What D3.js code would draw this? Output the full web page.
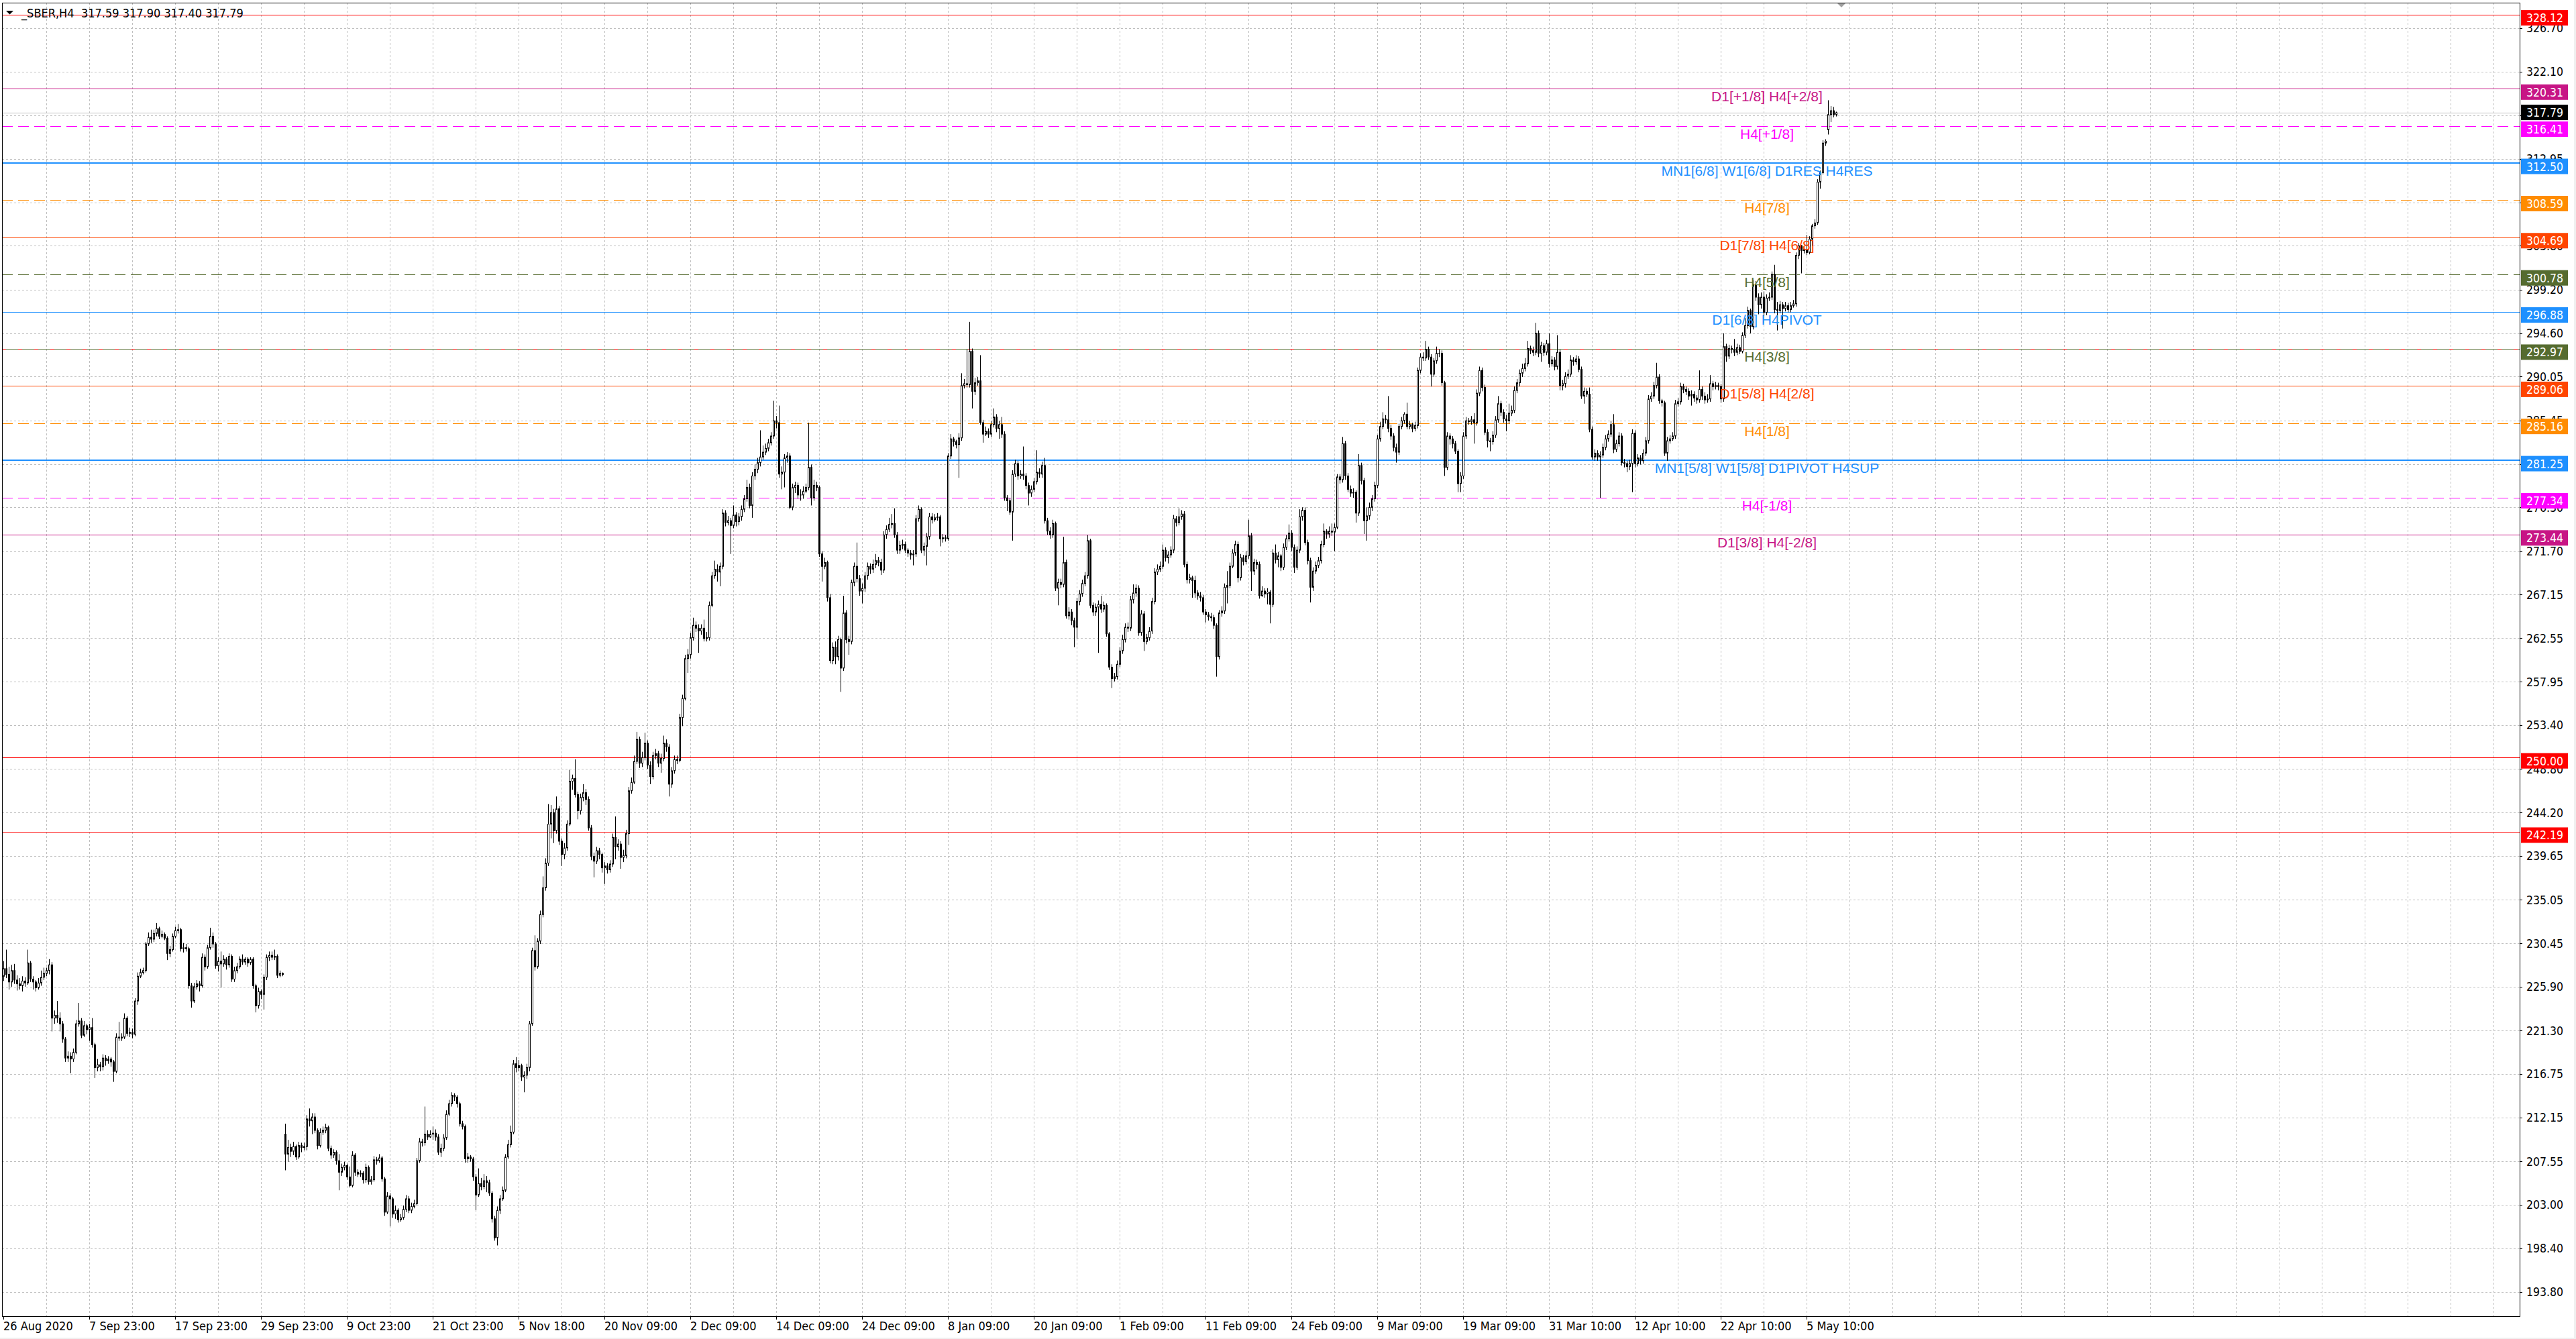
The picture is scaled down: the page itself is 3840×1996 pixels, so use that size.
<!DOCTYPE html>
<html><head><meta charset="utf-8">
<script src="https://cdn.jsdelivr.net/npm/d3@7/dist/d3.min.js"></script>
<style>
html,body{margin:0;padding:0;background:#fff;overflow:hidden}
svg{display:block}
</style></head><body>
<svg id="chart" width="3840" height="1996"></svg>
<script>
// ---------------- DATA ----------------
const symbolTitle = "_SBER,H4";
const lastOHLC = [317.59, 317.90, 317.40, 317.79];
const bidPrice = 317.79;

const timeLabels = ["26 Aug 2020","7 Sep 23:00","17 Sep 23:00","29 Sep 23:00","9 Oct 23:00","21 Oct 23:00",
  "5 Nov 18:00","20 Nov 09:00","2 Dec 09:00","14 Dec 09:00","24 Dec 09:00","8 Jan 09:00","20 Jan 09:00",
  "1 Feb 09:00","11 Feb 09:00","24 Feb 09:00","9 Mar 09:00","19 Mar 09:00","31 Mar 10:00","12 Apr 10:00",
  "22 Apr 10:00","5 May 10:00"];
const barsPerTimeLabel = 32;
const barsPerGridLine = 16;

const yTickValues = [326.70,322.10,317.50,312.95,308.35,303.80,299.20,294.60,290.05,285.45,280.85,276.30,
  271.70,267.15,262.55,257.95,253.40,248.80,244.20,239.65,235.05,230.45,225.90,221.30,216.75,212.15,
  207.55,203.00,198.40,193.80];

const levelPrices = [328.12,320.31,316.41,312.50,308.59,304.69,300.78,296.88,292.97,289.06,285.16,281.25,277.34,273.44,250.00,242.19];
const levelNames  = ["","D1[+1/8] H4[+2/8]","H4[+1/8]","MN1[6/8] W1[6/8] D1RES H4RES","H4[7/8]","D1[7/8] H4[6/8]",
  "H4[5/8]","D1[6/8] H4PIVOT","H4[3/8]","D1[5/8] H4[2/8]","H4[1/8]","MN1[5/8] W1[5/8] D1PIVOT H4SUP",
  "H4[-1/8]","D1[3/8] H4[-2/8]","",""];
const levelColors = ["#FF0000","#C71585","#FF00FF","#1E90FF","#FF8C00","#FF4500","#556B2F","#1E90FF",
  "#556B2F","#FF4500","#FF8C00","#1E90FF","#FF00FF","#C71585","#FF0000","#FF0000"];
const levelDashed = [false,false,true,false,true,false,true,false,false,false,true,false,true,false,false,false];
const levelWide   = [false,false,false,true,false,false,false,false,false,false,false,true,false,false,false,false];
const overlayDashPrice = 292.97; // red dashed line under the olive H4[3/8]

// H4 candles: [open, close, high, low]
const candles = [
[227.0,227.8,228.6,226.5],[227.8,227.2,229.8,226.8],[227.2,226.4,228.0,225.6],[226.4,227.6,228.2,225.9],[227.6,226.6,228.3,226.2],[226.6,226.2,227.1,225.5],[226.2,226.0,226.8,225.6],[226.0,226.5,227.0,225.4],
[226.5,226.3,226.9,225.9],[226.3,228.4,229.8,226.1],[228.4,226.7,228.6,226.4],[226.7,226.4,227.0,225.6],[226.4,225.8,226.6,225.4],[225.8,226.3,226.8,225.6],[226.3,226.9,227.6,226.0],[226.9,227.3,227.9,226.6],
[227.3,227.6,227.9,227.0],[227.6,228.2,228.8,227.2],[228.2,222.6,228.5,221.2],[222.6,222.9,223.4,222.0],[222.9,222.6,224.4,222.1],[222.6,222.0,223.2,221.2],[222.0,220.4,222.3,220.0],[220.4,218.4,220.6,218.0],
[218.4,218.6,219.1,218.0],[218.6,218.3,219.0,216.8],[218.3,219.0,219.4,218.0],[219.0,222.0,222.4,218.8],[222.0,222.3,224.2,221.7],[222.3,220.8,222.6,220.5],[220.8,221.8,222.3,220.6],[221.8,221.4,222.0,220.9],
[221.4,221.6,222.0,220.2],[221.6,219.8,222.6,219.5],[219.8,217.4,220.0,216.3],[217.4,217.7,218.3,217.0],[217.7,217.5,218.0,217.0],[217.5,218.4,218.8,217.1],[218.4,218.1,218.7,217.6],[218.1,218.3,218.6,217.8],
[218.3,218.0,218.5,217.5],[218.0,217.0,218.2,215.9],[217.0,220.6,221.0,216.8],[220.6,220.5,222.2,220.2],[220.5,220.6,221.0,220.2],[220.6,222.6,223.1,220.4],[222.6,221.0,222.8,220.7],[221.0,221.1,221.6,220.6],
[221.1,220.9,221.5,220.5],[220.9,224.4,224.7,220.7],[224.4,227.0,227.4,224.0],[227.0,227.4,227.8,226.8],[227.4,227.6,227.9,227.2],[227.6,230.4,230.6,227.4],[230.4,231.1,231.6,230.2],[231.1,230.9,231.9,230.5],
[230.9,231.5,231.9,230.6],[231.5,232.0,232.6,231.2],[232.0,231.2,232.2,230.9],[231.2,231.4,231.8,231.0],[231.4,231.0,231.6,230.8],[231.0,229.4,231.2,228.7],[229.4,229.8,230.2,229.0],[229.8,231.2,231.5,229.6],
[231.2,231.8,232.2,231.0],[231.8,231.9,232.5,231.5],[231.9,229.9,232.1,229.6],[229.9,230.0,230.5,229.5],[230.0,229.9,230.4,229.6],[229.9,226.0,230.1,225.7],[226.0,224.4,226.3,223.7],[224.4,225.9,226.3,224.2],
[225.9,226.2,226.6,225.6],[226.2,226.0,226.5,225.4],[226.0,229.0,229.4,225.8],[229.0,228.0,229.3,227.6],[228.0,230.0,230.3,227.8],[230.0,231.2,232.1,229.8],[231.2,230.4,231.6,230.0],[230.4,228.1,230.6,227.8],
[228.1,228.6,229.0,227.5],[228.6,228.3,229.6,225.8],[228.3,228.8,229.2,228.0],[228.8,228.2,229.0,227.7],[228.2,229.1,229.4,227.9],[229.1,226.7,229.3,226.4],[226.7,227.6,228.0,226.4],[227.6,228.0,228.4,227.3],
[228.0,228.8,229.1,227.8],[228.8,228.5,229.3,228.2],[228.5,228.8,229.0,228.2],[228.8,228.4,229.0,228.0],[228.4,228.8,229.0,228.2],[228.8,226.0,229.0,225.7],[226.0,223.9,226.2,223.2],[223.9,225.4,225.8,223.6],
[225.4,225.1,225.6,224.6],[225.1,226.9,227.2,223.5],[226.9,229.0,229.3,226.6],[229.0,229.2,229.6,228.6],[229.2,229.0,229.6,228.7],[229.0,229.1,229.8,228.7],[229.1,227.1,229.3,226.8],[227.1,227.3,227.6,226.9],
[227.3,227.2,227.4,227.0],
[210.4,208.3,211.5,206.6],[208.3,209.0,209.8,207.5],[209.0,208.6,209.4,208.0],[208.6,209.1,209.6,208.2],[209.1,208.0,209.3,207.7],[208.0,209.2,209.6,207.8],[209.2,209.0,209.5,208.5],[209.0,209.1,209.5,208.7],
[209.1,212.0,212.4,208.7],[212.0,211.8,213.1,211.2],[211.8,212.2,212.6,210.4],[212.2,210.8,212.6,210.5],[210.8,209.2,211.0,208.8],[209.2,210.6,211.0,209.0],[210.6,210.8,211.2,210.3],[210.8,211.1,211.5,210.5],
[211.1,208.9,211.3,208.6],[208.9,208.2,209.2,207.8],[208.2,208.5,208.8,207.9],[208.5,207.6,208.7,207.2],[207.6,206.4,208.3,204.5],[206.4,206.9,207.3,206.0],[206.9,207.1,207.5,206.6],[207.1,205.9,207.3,205.6],
[205.9,205.0,207.0,204.8],[205.0,208.2,208.6,204.8],[208.2,206.4,208.4,206.0],[206.4,206.2,206.7,205.9],[206.2,206.3,206.6,205.9],[206.3,205.6,206.5,205.2],[205.6,206.9,207.3,205.3],[206.9,205.4,207.1,205.1],
[205.4,205.6,206.0,205.1],[205.6,207.7,208.1,205.4],[207.7,207.6,208.0,207.2],[207.6,207.9,208.3,207.4],[207.9,205.7,208.1,205.4],[205.7,202.2,205.9,201.8],[202.2,203.9,204.3,202.0],[203.9,203.6,204.2,200.7],
[203.6,202.0,203.8,201.6],[202.0,202.4,202.9,201.5],[202.4,201.4,202.6,201.1],[201.4,201.6,202.0,201.2],[201.6,202.5,202.9,201.4],[202.5,203.6,204.0,202.2],[203.6,202.4,203.9,202.1],[202.4,202.8,203.2,202.1],
[202.8,203.1,203.5,202.6],[203.1,207.6,207.9,202.9],[207.6,209.6,210.0,207.4],[209.6,209.5,209.9,209.1],[209.5,210.4,213.3,209.2],[210.4,210.1,210.8,209.8],[210.1,210.4,210.8,210.0],[210.4,210.5,211.2,209.8],
[210.5,210.1,210.9,209.7],[210.1,208.5,210.4,208.2],[208.5,208.9,209.4,208.0],[208.9,210.0,210.4,208.6],[210.0,212.5,212.9,209.8],[212.5,213.6,214.0,212.3],[213.6,214.5,214.8,213.3],[214.5,214.3,214.7,213.9],
[214.3,213.6,214.5,213.2],[213.6,211.5,213.8,211.2],[211.5,211.2,211.8,210.9],[211.2,207.8,211.4,207.4],[207.8,208.0,208.4,207.4],[208.0,207.8,208.2,207.5],[207.8,205.9,208.0,205.5],[205.9,204.0,206.2,202.4],
[204.0,205.2,206.8,203.8],[205.2,204.9,205.8,204.5],[204.9,205.5,206.2,204.6],[205.5,205.3,206.0,204.3],[205.3,204.2,205.6,203.9],[204.2,201.5,204.4,201.1],[201.5,199.5,201.8,199.2],[199.5,202.4,202.8,198.7],
[202.4,203.6,204.0,202.0],[203.6,204.5,204.9,203.4],[204.5,208.0,208.3,204.3],[208.0,209.3,209.8,207.8],[209.3,210.6,211.3,209.0],[210.6,217.8,218.2,210.4],[217.8,217.4,218.5,216.9],[217.4,217.6,218.2,217.0],
[217.6,216.4,217.8,216.0],[216.4,216.6,217.0,214.8],[216.6,217.4,217.8,216.2],[217.4,222.0,222.3,217.0],[222.0,229.7,230.0,221.8],[229.7,228.0,231.3,227.6],[228.0,230.7,231.0,227.8],[230.7,233.5,233.9,230.4],
[233.5,236.3,237.5,233.2],[236.3,238.9,239.4,236.0],[238.9,243.0,245.1,238.6],[243.0,244.2,245.0,241.5],[244.2,242.3,244.6,241.0],[242.3,244.6,245.9,242.0],[244.6,241.2,244.9,240.8],[241.2,239.8,241.5,238.6],
[239.8,240.5,241.0,239.3],[240.5,243.0,243.4,240.2],[243.0,247.5,248.7,242.8],[247.5,247.8,248.2,246.6],[247.8,246.1,249.8,245.8],[246.1,244.4,246.4,243.5],[244.4,245.8,246.2,244.0],[245.8,246.3,247.2,245.4],
[246.3,245.6,246.7,245.0],[245.6,242.6,245.9,242.3],[242.6,239.6,242.9,239.2],[239.6,239.1,240.0,237.4],[239.1,240.2,240.6,238.8],[240.2,239.8,240.5,239.3],[239.8,238.4,240.0,237.9],[238.4,238.6,239.0,236.7],
[238.6,238.2,238.9,237.8],[238.2,238.8,239.2,237.9],[238.8,241.6,242.0,238.5],[241.6,240.6,243.8,239.3],
[240.6,240.9,241.4,240.2],[240.9,239.5,241.2,238.3],[239.5,239.7,240.3,239.0],[239.7,242.0,242.4,239.4],[242.0,246.5,246.9,240.8],[246.5,247.4,247.9,246.2],[247.4,249.6,250.2,247.2],[249.6,251.9,252.7,249.3],
[251.9,249.4,252.2,248.9],[249.4,250.0,250.6,249.0],[250.0,251.5,252.6,249.7],[251.5,249.2,251.8,248.8],[249.2,248.0,249.6,247.2],[248.0,250.2,250.6,247.7],[250.2,250.4,250.9,249.8],[250.4,249.4,250.7,249.0],
[249.4,249.9,250.4,248.4],[249.9,251.5,252.3,249.6],[251.5,251.1,251.9,250.6],[251.1,247.2,251.4,245.9],[247.2,248.6,249.0,246.8],[248.6,249.8,250.2,248.3],[249.8,249.7,250.2,249.3],[249.7,254.2,254.6,249.5],
[254.2,256.2,256.6,253.3],[256.2,260.4,260.8,256.0],[260.4,260.8,261.4,258.9],[260.8,262.6,263.1,260.4],[262.6,263.9,264.7,262.3],[263.9,263.6,264.3,263.2],[263.6,263.3,264.0,261.0],[263.3,263.6,264.0,262.9],
[263.6,262.5,264.5,262.2],[262.5,262.6,263.2,262.2],[262.6,266.0,266.4,262.3],[266.0,269.1,269.5,265.8],[269.1,269.8,270.7,268.8],[269.8,269.5,270.3,268.5],[269.5,270.1,270.5,268.0],[270.1,275.7,276.1,269.8],
[275.7,274.7,276.0,274.3],[274.7,274.9,275.4,274.4],[274.9,274.4,275.2,271.4],[274.4,275.5,276.5,274.1],[275.5,274.8,275.8,274.3],[274.8,275.3,275.7,274.4],[275.3,276.1,276.5,274.9],[276.1,277.2,277.6,275.8],
[277.2,278.4,279.2,276.9],[278.4,276.5,278.8,276.2],[276.5,279.6,280.0,275.2],[279.6,280.3,280.8,279.2],[280.3,281.0,281.5,279.9],[281.0,281.6,284.4,280.6],[281.6,282.1,282.8,281.3],[282.1,282.5,283.0,281.8],
[282.5,283.1,283.5,282.2],[283.1,283.8,284.2,282.8],[283.8,285.4,287.5,283.5],[285.4,285.2,285.9,284.6],[285.2,279.8,287.0,279.4],[279.8,280.0,280.6,278.2],[280.0,281.5,281.9,278.4],[281.5,281.7,282.1,281.0],
[281.7,276.3,282.0,276.1],[276.3,278.4,278.8,276.0],[278.4,278.6,279.0,277.8],[278.6,277.6,278.9,277.2],[277.6,277.6,278.2,277.0],[277.6,278.0,278.5,277.2],[278.0,278.4,278.8,277.8],[278.4,280.5,285.2,278.1],
[280.5,277.3,280.8,276.5],[277.3,278.6,279.2,277.0],[278.6,278.4,279.0,278.0],[278.4,271.4,278.6,271.1],[271.4,270.1,271.7,268.5],[270.1,270.5,271.0,269.8],[270.5,266.8,270.7,266.4],[266.8,260.2,267.2,259.9],
[260.2,261.6,262.1,259.8],[261.6,260.6,262.2,259.8],[260.6,262.4,262.8,260.2],[262.4,259.4,262.6,256.9],[259.4,265.2,267.0,259.1],[265.2,262.4,265.5,262.0],[262.4,262.2,262.8,260.8],[262.2,268.4,268.7,261.9],
[268.4,270.1,270.5,268.0],[270.1,268.8,272.6,268.4],[268.8,267.5,269.2,267.0],[267.5,267.8,268.3,266.2],[267.8,269.1,269.5,267.4],[269.1,270.1,270.5,268.7],[270.1,269.8,270.4,269.3],[269.8,270.3,270.8,269.4],
[270.3,270.7,271.4,269.9],[270.7,270.5,271.1,270.1],[270.5,269.7,270.9,269.2],[269.7,273.4,273.8,269.4],[273.4,274.0,274.4,273.0],[274.0,274.5,275.2,273.7],[274.5,274.6,275.6,274.1],[274.6,273.4,276.2,273.1],
[273.4,271.8,273.7,271.4],[271.8,272.3,272.8,271.4],[272.3,272.4,272.9,271.9],[272.4,271.8,272.7,271.5],[271.8,271.5,272.0,271.1],[271.5,271.3,271.8,270.8],[271.3,271.4,271.8,270.2],[271.4,275.1,275.5,271.1],
[275.1,276.1,276.5,274.8],[276.1,271.8,276.3,271.5],[271.8,272.2,272.6,271.2],[272.2,273.2,273.6,270.2],[273.2,275.3,275.7,272.9],[275.3,275.0,275.7,274.6],[275.0,275.2,275.6,274.8],[275.2,275.3,275.7,274.9],
[275.3,273.0,275.5,272.2],[273.0,273.1,273.5,272.6],[273.1,273.0,273.4,272.7],[273.0,281.7,282.0,272.8],[281.7,283.5,284.0,281.4],[283.5,283.2,283.7,282.7],[283.2,282.9,283.4,282.5],[282.9,283.6,284.1,279.4],
[283.6,289.1,290.4,283.3],[289.1,289.3,289.8,288.8],[289.3,289.2,292.9,288.9],[289.2,292.7,295.8,288.9],[292.7,288.5,293.0,286.7],[288.5,289.4,289.9,288.1],[289.4,289.6,290.0,289.1],[289.6,285.2,292.3,285.0],
[285.2,284.0,285.5,283.1],[284.0,284.3,284.8,283.8],[284.3,284.0,284.6,283.6],[284.0,285.0,285.4,283.7],[285.0,285.8,286.7,284.7],[285.8,284.6,286.1,284.2],[284.6,285.0,285.4,283.5],[285.0,284.0,285.8,283.6],
[284.0,277.3,284.3,277.0],[277.3,277.0,277.6,275.9],[277.0,275.8,277.3,275.5],[275.8,279.8,280.2,272.8],[279.8,280.9,281.3,279.5],[280.9,279.6,281.2,279.2],[279.6,279.8,280.2,279.3],[279.8,279.6,282.7,279.2],
[279.6,278.6,279.9,278.2],[278.6,277.8,278.9,276.5],[277.8,278.2,278.6,277.4],[278.2,279.0,279.4,277.9],[279.0,280.0,282.3,278.7],[280.0,279.8,280.4,279.4],[279.8,280.7,281.1,279.4],[280.7,274.9,281.5,274.6],
[274.9,273.8,275.2,273.4],[273.8,273.4,274.2,273.0],[273.4,274.6,275.0,273.1],[274.6,267.8,274.8,267.5],[267.8,268.4,268.8,266.0],[268.4,268.2,268.8,267.8],[268.2,270.5,273.2,267.9],[270.5,264.9,270.8,264.6],
[264.9,265.3,265.8,264.5],[265.3,264.4,265.6,263.9],[264.4,263.7,264.7,261.6],[263.7,266.4,266.8,262.5],[266.4,267.2,267.6,266.0],[267.2,268.3,268.7,266.9],[268.3,269.1,269.5,268.0],[269.1,272.8,273.4,268.8],
[272.8,266.0,273.0,265.7],[266.0,265.3,266.3,264.9],[265.3,265.8,266.2,264.9],[265.8,266.1,266.5,261.0],[266.1,265.6,267.0,265.2],[265.6,266.0,266.4,265.3],[266.0,263.0,266.2,262.7],[263.0,259.5,263.2,259.2],
[259.5,258.3,259.8,257.3],[258.3,258.5,258.9,258.0],[258.5,259.8,260.2,258.2],[259.8,261.2,261.6,259.5],[261.2,262.4,262.9,260.9],[262.4,263.7,264.1,262.1],[263.7,263.6,264.2,263.2],[263.6,266.6,267.0,263.3],
[266.6,267.3,268.2,266.2],[267.3,267.8,268.2,266.9],[267.8,263.1,268.1,262.8],[263.1,265.1,265.5,262.8],[265.1,262.2,265.4,261.2],[262.2,262.6,263.0,261.9],[262.6,263.3,263.7,262.3],[263.3,266.4,266.8,263.0],
[266.4,269.5,269.9,266.1],[269.5,269.8,270.3,269.2],[269.8,270.1,270.6,269.5],[270.1,271.8,272.4,269.8],[271.8,271.0,272.1,270.6],[271.0,271.3,271.7,270.4],[271.3,271.8,272.2,271.0],[271.8,275.1,275.5,271.5],
[275.1,274.7,275.4,274.3],[274.7,275.3,276.2,274.4],[275.3,275.6,276.0,275.0],[275.6,270.3,275.9,270.0],[270.3,268.7,270.6,268.3],[268.7,268.9,269.3,268.3],[268.9,268.6,269.1,266.8],[268.6,267.3,269.1,266.8],
[267.3,267.0,267.6,266.6],[267.0,266.8,267.4,266.4],[266.8,265.3,267.1,265.0],[265.3,265.0,265.6,264.2],[265.0,264.8,265.3,264.4],[264.8,264.7,265.2,264.3],[264.7,263.9,265.0,263.5],[263.9,260.6,264.1,258.5],
[260.6,265.2,265.5,260.3],[265.2,265.4,265.9,264.8],[265.4,267.9,268.3,265.1],[267.9,268.1,269.6,266.2],[268.1,270.1,270.5,267.8],
[270.1,271.5,271.9,269.9],[271.5,272.4,272.8,271.2],[272.4,268.9,272.7,268.4],[268.9,271.0,271.4,268.6],[271.0,270.6,271.3,270.2],[270.6,271.2,271.7,270.3],[271.2,273.3,275.0,270.9],[273.3,269.6,273.6,267.5],
[269.6,270.5,270.9,269.2],[270.5,270.3,270.8,269.8],[270.3,267.0,270.6,266.7],[267.0,267.5,268.0,266.9],[267.5,267.2,267.8,266.8],[267.2,267.4,267.8,266.1],[267.4,266.1,267.6,264.1],[266.1,271.5,271.9,265.8],
[271.5,270.8,272.4,270.4],[270.8,271.2,271.6,270.0],[271.2,270.0,271.4,269.6],[270.0,272.1,272.5,269.7],[272.1,273.0,273.4,271.8],[273.0,273.6,274.5,272.7],[273.6,272.1,273.9,271.7],[272.1,270.0,272.4,269.4],
[270.0,271.8,272.2,269.7],[271.8,275.3,276.1,271.5],[275.3,276.0,276.3,274.9],[276.0,272.6,276.3,272.3],[272.6,270.7,272.9,270.3],[270.7,267.9,271.0,266.3],[267.9,269.6,270.0,267.5],[269.6,270.2,270.6,269.3],
[270.2,270.7,271.1,269.9],[270.7,272.4,272.8,270.4],[272.4,273.8,274.6,272.1],[273.8,273.5,274.0,273.0],[273.5,273.8,274.3,273.1],[273.8,273.7,274.6,273.3],[273.7,274.2,274.6,271.7],[274.2,279.5,279.8,274.0],
[279.5,279.2,279.8,278.8],[279.2,283.0,283.7,278.9],[283.0,279.6,283.3,279.2],[279.6,278.2,279.9,277.9],[278.2,277.8,278.6,277.4],[277.8,277.9,278.3,277.3],[277.9,275.7,278.1,274.7],[275.7,280.7,281.9,275.4],
[280.7,279.1,281.0,278.7],[279.1,274.9,279.4,273.5],[274.9,275.4,276.3,272.8],[275.4,276.3,276.8,275.0],[276.3,277.2,277.6,275.9],[277.2,278.6,279.0,276.9],[278.6,283.5,283.9,278.3],[283.5,284.8,285.3,283.2],
[284.8,285.6,286.3,284.5],[285.6,285.5,286.0,285.1],[285.5,284.6,288.0,284.2],[284.6,283.8,285.0,283.4],[283.8,282.6,284.1,282.2],[282.6,282.1,283.0,281.0],[282.1,284.8,285.1,281.8],[284.8,285.4,285.8,284.5],
[285.4,286.1,286.3,285.1],[286.1,284.8,287.3,284.5],[284.8,285.0,285.4,284.5],[285.0,284.6,285.2,284.2],[284.6,284.9,285.3,284.3],[284.9,290.7,291.0,284.6],[290.7,292.1,292.5,290.4],[292.1,292.0,292.6,291.7],
[292.0,292.9,293.8,291.7],[292.9,292.1,293.2,291.8],[292.1,290.3,292.4,289.0],[290.3,291.7,292.0,290.0],[291.7,292.5,293.2,291.4],[292.5,292.5,292.9,292.1],[292.5,289.4,292.8,289.1],[289.4,280.5,289.6,279.6],
[280.5,283.8,284.2,280.2],[283.8,283.5,284.1,282.9],[283.5,283.0,283.8,282.5],[283.0,282.2,283.3,281.9],[282.2,278.8,282.4,277.9],[278.8,279.6,280.0,277.9],[279.6,283.8,284.2,279.3],[283.8,285.4,285.8,283.5],
[285.4,285.3,285.7,285.0],[285.3,285.5,285.9,285.0],[285.5,285.2,286.2,283.0],[285.2,288.3,288.7,284.9],[288.3,290.7,291.1,288.0],[290.7,288.9,291.0,288.5],[288.9,284.2,289.2,283.9],[284.2,283.3,284.5,282.6],
[283.3,283.2,283.6,282.2],[283.2,283.9,284.3,282.9],[283.9,285.5,285.9,283.6],[285.5,287.2,288.0,285.2],[287.2,286.3,287.5,285.9],[286.3,285.6,286.6,285.2],[285.6,285.4,286.0,284.3],[285.4,286.2,287.2,285.1],
[286.2,286.5,287.0,285.9],[286.5,288.6,289.0,286.2],[288.6,289.4,289.8,288.3],[289.4,290.4,290.8,289.0],[290.4,290.9,291.4,290.0],[290.9,291.4,292.0,290.6],[291.4,293.0,293.8,291.1],[293.0,292.8,293.3,292.4],
[292.8,292.6,293.2,292.2],[292.6,294.6,295.7,292.3],[294.6,292.5,294.9,292.1],[292.5,293.3,293.7,291.6],[293.3,292.6,293.6,292.2],[292.6,293.5,293.9,292.3],[293.5,291.4,294.6,291.0],[291.4,291.8,292.2,291.1],
[291.8,291.1,292.1,290.7],[291.1,292.6,294.4,290.8],[292.6,289.1,292.9,288.6],[289.1,289.3,289.7,288.6],[289.3,290.1,290.5,288.9],[290.1,290.3,290.8,289.8],[290.3,291.8,292.3,290.0],[291.8,291.6,292.1,291.2],
[291.6,291.9,292.3,291.3],[291.9,290.8,292.2,290.5],[290.8,288.0,291.1,287.7],[288.0,288.5,288.9,287.2],[288.5,288.2,288.8,287.9],[288.2,284.5,288.9,284.2],[284.5,281.6,284.8,281.3],[281.6,282.0,282.4,281.2],
[282.0,281.6,282.3,281.2],[281.6,281.8,282.2,277.3],[281.8,282.6,283.0,281.5],[282.6,283.5,283.9,282.3],[283.5,284.0,284.4,283.2],[284.0,285.0,285.4,283.7],[285.0,282.4,286.1,282.0],[282.4,283.0,283.4,282.1],
[283.0,283.8,284.2,282.7],[283.8,281.0,284.1,280.7],[281.0,280.9,281.4,280.5],[280.9,280.6,281.2,280.0],[280.6,280.9,281.3,280.2],[280.9,284.1,284.5,277.9],[284.1,280.9,284.4,280.5],[280.9,281.5,281.9,280.6],
[281.5,281.2,281.8,280.8],[281.2,282.0,282.4,280.9],[282.0,283.3,283.7,281.7],[283.3,287.7,288.1,283.0],[287.7,288.0,288.4,287.4],[288.0,289.1,289.5,287.7],[289.1,290.0,291.5,288.8],[290.0,287.5,290.3,287.2],
[287.5,287.3,287.7,286.9],[287.3,282.0,287.5,281.7],[282.0,283.3,283.7,281.2],[283.3,283.5,283.9,283.0],[283.5,283.8,284.2,283.3],[283.8,287.2,287.6,283.5],[287.2,287.4,287.8,286.9],[287.4,289.0,289.4,287.1],
[289.0,288.7,289.3,288.3],[288.7,288.5,289.0,288.1],[288.5,288.0,288.8,287.6],[288.0,288.2,288.6,287.0],[288.2,287.8,288.5,287.4],[287.8,287.6,288.1,287.2],[287.6,288.7,290.7,287.3],[288.7,288.0,289.0,287.6],
[288.0,287.6,288.4,287.2],[287.6,287.7,288.2,287.3],[287.7,289.3,290.2,287.4],[289.3,289.0,289.6,288.6],[289.0,289.1,289.5,288.7],[289.1,289.0,289.4,288.6],[289.0,287.7,289.3,287.3],[287.7,293.2,294.6,287.4],
[293.2,292.2,293.5,291.6],[292.2,293.0,293.4,291.9],[293.0,292.9,293.3,292.5],[292.9,292.6,294.0,292.2],[292.6,293.1,293.5,292.3],[293.1,292.7,293.4,292.4],[292.7,294.4,294.7,292.5],[294.4,295.4,296.2,294.1],
[295.4,297.0,297.4,295.1],[297.0,295.3,297.2,294.6],[295.3,299.7,300.2,295.0],[299.7,298.4,300.1,298.0],[298.4,297.6,298.8,296.6],[297.6,298.4,298.9,297.2],[298.4,296.8,299.0,296.4],[296.8,298.3,298.7,296.5],
[298.3,298.4,298.9,298.0],[298.4,300.8,301.1,298.1],[300.8,297.1,301.8,296.7],[297.1,297.0,297.9,294.9],[297.0,297.6,298.0,296.7],[297.6,297.2,297.9,295.1],[297.2,297.5,297.9,296.9],[297.5,297.1,297.8,296.8],
[297.1,297.5,297.9,296.8],[297.5,297.7,298.1,297.3],[297.7,302.8,303.1,297.4],[302.8,303.8,304.1,302.4],[303.8,303.3,303.9,300.9],[303.3,303.4,303.8,303.0],[303.4,303.1,304.95,302.8],[303.1,304.5,304.8,302.9],
[304.5,305.9,306.1,303.8],[305.9,306.2,306.6,305.6],[306.2,310.5,310.8,306.0],[310.5,311.5,311.7,309.8],[311.5,314.6,314.9,311.3],[314.6,314.8,315.0,314.3],[316.0,317.6,319.1,315.5],[317.6,318.0,318.5,316.8],
[318.0,317.6,318.4,317.3],[317.59,317.79,317.90,317.40]
];

// ---------------- LAYOUT ----------------
const W = 3840, H = 1996;
const plot = {left: 3, top: 4, right: 3756, bottom: 1962};
const barStep = 4, firstBarX = 5;
const axisFont = "'DejaVu Sans Condensed','DejaVu Sans',sans-serif";
const labelFont = "'Liberation Sans',Arial,sans-serif";

const svg = d3.select("#chart");
const y = d3.scaleLinear().domain([191.26, 329.36]).range([plot.bottom, plot.top]);
const x = d3.scaleLinear().domain([0, 1]).range([firstBarX, firstBarX + barStep]);
const crisp = v => Math.round(v) + 0.5;

svg.append("rect").attr("width", W).attr("height", H).attr("fill", "#F0F0F0");
svg.append("rect").attr("x", 0).attr("y", 0).attr("width", 3837).attr("height", 1994).attr("fill", "#fff");

svg.append("defs").append("clipPath").attr("id", "clip")
  .append("rect").attr("x", plot.left).attr("y", plot.top)
  .attr("width", plot.right - plot.left).attr("height", plot.bottom - plot.top);

// ---- grid ----
const grid = svg.append("g").attr("clip-path", "url(#clip)");
grid.selectAll("line.hg").data(yTickValues).join("line")
  .attr("x1", plot.left).attr("x2", plot.right)
  .attr("y1", d => crisp(y(d))).attr("y2", d => crisp(y(d)))
  .attr("stroke", "#C0C0C0").attr("stroke-dasharray", "3,3");
const maxGrid = Math.floor((plot.right - firstBarX) / (barStep * barsPerGridLine));
const vGridBars = d3.range(1, maxGrid + 1).map(k => k * barsPerGridLine);
grid.selectAll("line.vg").data(vGridBars).join("line")
  .attr("x1", d => crisp(x(d))).attr("x2", d => crisp(x(d)))
  .attr("y1", plot.top).attr("y2", plot.bottom)
  .attr("stroke", "#C0C0C0").attr("stroke-dasharray", "3,3");

// ---- level lines ----
const levels = levelPrices.map((p, i) => ({p, name: levelNames[i], color: levelColors[i], dashed: levelDashed[i], wide: levelWide[i]}));
const lv = svg.append("g").attr("clip-path", "url(#clip)");
lv.selectAll("line.lvl").data(levels).join("line")
  .attr("x1", plot.left).attr("x2", plot.right)
  .attr("y1", d => d.wide ? Math.round(y(d.p)) : crisp(y(d.p)))
  .attr("y2", d => d.wide ? Math.round(y(d.p)) : crisp(y(d.p)))
  .attr("stroke", d => d.color)
  .attr("stroke-width", d => d.wide ? 2 : 1)
  .attr("stroke-dasharray", d => d.dashed ? "16,8" : null);
lv.append("line")
  .attr("x1", plot.left).attr("x2", plot.right)
  .attr("y1", crisp(y(overlayDashPrice))).attr("y2", crisp(y(overlayDashPrice)))
  .attr("stroke", "#FF0000").attr("stroke-dasharray", "6,18");
// bid line
lv.append("line")
  .attr("x1", plot.left).attr("x2", plot.right)
  .attr("y1", crisp(y(bidPrice))).attr("y2", crisp(y(bidPrice)))
  .attr("stroke", "#C0C0C0");

// ---- candles ----
const cg = svg.append("g").attr("clip-path", "url(#clip)");
cg.selectAll("line.wick").data(candles).join("line")
  .attr("x1", (d, i) => Math.round(x(i)) + 0.5).attr("x2", (d, i) => Math.round(x(i)) + 0.5)
  .attr("y1", d => y(d[2])).attr("y2", d => y(d[3]))
  .attr("stroke", "#000").attr("stroke-width", 1);
cg.selectAll("rect.body").data(candles).join("rect")
  .attr("x", (d, i) => Math.round(x(i)) - 0.5)
  .attr("y", d => y(Math.max(d[0], d[1])))
  .attr("width", 2)
  .attr("height", d => Math.max(0.01, y(Math.min(d[0], d[1])) - y(Math.max(d[0], d[1]))))
  .attr("fill", d => d[1] >= d[0] ? "#fff" : "#000")
  .attr("stroke", "#000").attr("stroke-width", 1);

// ---- level labels ----
svg.append("g").selectAll("text").data(levels.filter(d => d.name)).join("text")
  .attr("x", 2634).attr("y", d => y(d.p) + 19)
  .attr("text-anchor", "middle")
  .attr("font-family", labelFont).attr("font-size", 21)
  .attr("fill", d => d.color)
  .text(d => d.name);

// ---- frame & axes ----
svg.append("line").attr("x1", plot.left + 0.5).attr("x2", plot.left + 0.5).attr("y1", plot.top).attr("y2", plot.bottom).attr("stroke", "#000");
svg.append("line").attr("x1", plot.left).attr("x2", plot.right).attr("y1", plot.top + 0.5).attr("y2", plot.top + 0.5).attr("stroke", "#000");
svg.append("line").attr("x1", plot.right + 0.5).attr("x2", plot.right + 0.5).attr("y1", plot.top).attr("y2", plot.bottom + 1).attr("stroke", "#000");
svg.append("line").attr("x1", plot.left).attr("x2", plot.right + 1).attr("y1", plot.bottom + 0.5).attr("y2", plot.bottom + 0.5).attr("stroke", "#000");

const ax = svg.append("g");
ax.selectAll("line.yt").data(yTickValues).join("line")
  .attr("x1", plot.right).attr("x2", plot.right + 4)
  .attr("y1", d => crisp(y(d))).attr("y2", d => crisp(y(d)))
  .attr("stroke", "#000");
ax.selectAll("text.yl").data(yTickValues).join("text")
  .attr("x", plot.right + 10).attr("y", d => y(d) + 6.5)
  .attr("font-family", axisFont).attr("font-size", 17.5).attr("fill", "#000")
  .text(d => d3.format(".2f")(d));

const timeTicks = timeLabels.map((t, k) => ({t, bar: k * barsPerTimeLabel}));
ax.selectAll("line.xt").data(timeTicks).join("line")
  .attr("x1", d => crisp(x(d.bar))).attr("x2", d => crisp(x(d.bar)))
  .attr("y1", plot.bottom).attr("y2", plot.bottom + 5)
  .attr("stroke", "#000");
ax.selectAll("text.xl").data(timeTicks).join("text")
  .attr("x", d => Math.max(2, x(d.bar))).attr("y", 1983)
  .attr("font-family", axisFont).attr("font-size", 18).attr("fill", "#000")
  .text(d => d.t);

// ---- price boxes on the right axis ----
const boxes = levels.map(d => ({p: d.p, color: d.color, text: "#fff"}));
boxes.push({p: bidPrice, color: "#000", text: "#fff", bid: true});
boxes.sort((a, b) => a.p - b.p);
const boxH = 23;
let prevTop = Infinity;
boxes.forEach(b => {
  let top = y(b.p) - 6.5;
  if (top + boxH > prevTop - 2) top = prevTop - 2 - boxH;
  b.top = top;
  prevTop = top;
});
const bg = svg.append("g");
bg.selectAll("rect").data(boxes).join("rect")
  .attr("x", plot.right + 2).attr("y", d => d.top)
  .attr("width", 70).attr("height", boxH)
  .attr("fill", d => d.color);
bg.selectAll("text").data(boxes).join("text")
  .attr("x", plot.right + 10).attr("y", d => d.top + boxH / 2 + 6.5)
  .attr("font-family", axisFont).attr("font-size", 17.5).attr("fill", d => d.text)
  .text(d => d3.format(".2f")(d.p));

// ---- header ----
svg.append("path").attr("d", "M9,16 L20,16 L14.5,21.5 Z").attr("fill", "#000");
svg.append("text").attr("x", 32).attr("y", 26)
  .attr("font-family", axisFont).attr("font-size", 18).attr("fill", "#000")
  .attr("xml:space", "preserve")
  .text(symbolTitle + "  " + lastOHLC.map(v => v.toFixed(2)).join(" "));

// chart shift marker
const lastX = x(candles.length - 1);
svg.append("path").attr("d", `M${lastX + 2},${plot.top + 1} L${lastX + 14},${plot.top + 1} L${lastX + 8},${plot.top + 7} Z`).attr("fill", "#A0A0A0");
</script>
</body></html>
